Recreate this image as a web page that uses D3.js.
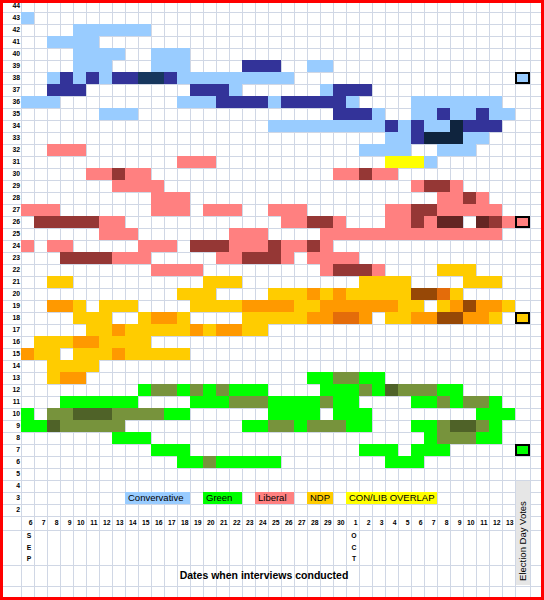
<!DOCTYPE html>
<html>
<head>
<meta charset="utf-8">
<script src="https://cdn.jsdelivr.net/npm/d3@7"></script>
<style>
  body { margin: 0; background: #fff; }
  svg { display: block; }
</style>
</head>
<body>
<svg id="chart"></svg>
<script>
// Interview dates (columns) and poll percentages (rows)
const dates = ["Sep 6","Sep 7","Sep 8","Sep 9","Sep 10","Sep 11","Sep 12","Sep 13","Sep 14","Sep 15",
  "Sep 16","Sep 17","Sep 18","Sep 19","Sep 20","Sep 21","Sep 22","Sep 23","Sep 24","Sep 25",
  "Sep 26","Sep 27","Sep 28","Sep 29","Sep 30","Oct 1","Oct 2","Oct 3","Oct 4","Oct 5",
  "Oct 6","Oct 7","Oct 8","Oct 9","Oct 10","Oct 11","Oct 12","Oct 13"];
const pcts = [44,43,42,41,40,39,38,37,36,35,34,33,32,31,30,29,28,27,26,25,24,23,22,
  21,20,19,18,17,16,15,14,13,12,11,10,9,8,7,6,5,4,3,2];
const months = [["Sep 6", "SEP"], ["Oct 1", "OCT"]];

// one char per date: "." none, digit = number of polls at that value
const conservative = [
  [43, "1......... .......... .......... ........"],
  [42, "....111111 .......... .......... ........"],
  [41, "..1111.... .......... .......... ........"],
  [40, "....1111.. 111....... .......... ........"],
  [39, "....111... 111....222 ..11...... ........"],
  [38, "..12121223 3211111111 1......... ........"],
  [37, "..222..... ...2221... ...1222... ........"],
  [36, "111....... ..11122221 222221.... 1111111."],
  [35, "......111. .......... ....2221.. 11211211"],
  [34, ".......... .........1 1111111121 2114222."],
  [33, ".......... .......... ........11 244411.."],
  [32, ".......... .......... ......1111 ..111..."],
  [31, ".......... .......... .......... .1......"]
];
const liberal = [
  [32, "..111..... .......... .......... ........"],
  [31, ".......... ..111..... .......... ........"],
  [30, ".....11211 .......... ....11211. ........"],
  [29, ".......111 1......... .......... 1221...."],
  [28, ".......... 111....... .......... ..1121.."],
  [27, "111....... 111.111..1 11......11 2211111."],
  [26, ".2222211.. .......... 11221...11 2133.321"],
  [25, "......111. ......111. ...1111111 1111111."],
  [24, "1.11.....1 11.2221112 1121...... ........"],
  [23, "...2222111 .....11222 1.1111.... ........"],
  [22, ".......... 1111...... ...12221.. ........"]
];
const ndp = [
  [22, ".......... .......... .......... ..111..."],
  [21, "..11...... ....111... ......1111 ....111."],
  [20, ".......... ..111....1 1121211111 4431...."],
  [19, "..221.111. ...1111222 2112222221 1.124221"],
  [18, "....111..1 221....111 1122332.11 2244221."],
  [17, ".....11211 111212211. .......... ........"],
  [16, ".111221111 .......... .......... ........"],
  [15, "211.111211 111....... .......... ........"],
  [14, "..1111.... .......... .......... ........"],
  [13, "..122..... .......... .......... ........"]
];
const green = [
  [13, ".......... .......... ..112211.. ........"],
  [12, ".........1 221212111. ...1112132 2211...."],
  [11, "...111111. ...1112221 111211.... 1121221."],
  [10, "1.22333222 211......1 111.111... .....111"],
  [9,  "11322222.. .......112 2122211... 1123321."],
  [8,  ".......111 .......... .......... .122211."],
  [7,  ".......... 111....... ......111. 111....."],
  [6,  ".......... ..11211111 ........11 1......."]
];
const conLibOverlap = [
  [31, ".......... .......... ........11 1......."]
];
const electionDay = [["Conservative", 38], ["Liberal", 26], ["NDP", 18], ["Green", 7]];
const legendNames = ["Convervative", "Green", "Liberal", "NDP", "CON/LIB OVERLAP"];

// colours by number of polls
const shades = {
  Conservative: ["#99CCFF", "#333399", "#17375E", "#0F243E"],
  Liberal: ["#FF8080", "#953735", "#632523"],
  NDP: ["#FFCC00", "#FF9900", "#E46C0A", "#974806"],
  Green: ["#00FF00", "#77933C", "#4F6228"],
  Overlap: ["#FFFF00"]
};
const legendColors = ["#99CCFF", "#00FF00", "#FF8080", "#FFCC00", "#FFFF00"];

const width = 544, height = 600;
const svg = d3.select("#chart").attr("width", width).attr("height", height);
svg.append("rect").attr("width", width).attr("height", height).attr("fill", "#fff");

const x = d3.scaleBand().domain(dates).range([21, 515]);
const y = d3.scaleBand().domain(pcts).range([0, 516]);
const elecX = 515, elecW = 15;
const gridColor = "#D0D7E5";

// grid
const grid = svg.append("g").attr("shape-rendering", "crispEdges").attr("stroke", gridColor);
const vLines = dates.map(d => x(d)).concat([elecX, elecX + elecW]);
grid.selectAll("line.v").data(vLines).join("line")
    .attr("x1", d => d + 0.5).attr("x2", d => d + 0.5)
    .attr("y1", 3).attr("y2", 597);
const hLines = pcts.map(p => y(p)).concat([516, 530, 565, 586]);
grid.selectAll("line.h").data(hLines).join("line")
    .attr("x1", 3).attr("x2", 541)
    .attr("y1", d => d + 0.5).attr("y2", d => d + 0.5);

// cells
function toCells(party, rows) {
  return rows.flatMap(([pct, s]) =>
    Array.from(s.replace(/ /g, "")).map((c, i) =>
      c === "." ? null : { party, pct, date: dates[i], n: +c }).filter(Boolean));
}
const cells = [].concat(
  toCells("Conservative", conservative),
  toCells("Liberal", liberal),
  toCells("NDP", ndp),
  toCells("Green", green),
  toCells("Overlap", conLibOverlap)
);
svg.append("g").attr("shape-rendering", "crispEdges")
  .selectAll("rect").data(cells).join("rect")
    .attr("x", d => x(d.date))
    .attr("y", d => y(d.pct))
    .attr("width", x.bandwidth())
    .attr("height", y.bandwidth())
    .attr("fill", d => shades[d.party][d.n - 1]);

// election day column
svg.append("rect").attr("x", elecX + 1).attr("y", 481).attr("width", elecW - 1).attr("height", 104)
    .attr("fill", "#E6E6E6");
svg.append("g").selectAll("rect").data(electionDay).join("rect")
    .attr("shape-rendering", "crispEdges")
    .attr("x", elecX + 1).attr("y", d => y(d[1]) + 1)
    .attr("width", elecW - 2).attr("height", y.bandwidth() - 2)
    .attr("fill", d => shades[d[0]][0])
    .attr("stroke", "#000").attr("stroke-width", 2);
svg.append("text")
    .attr("transform", `translate(${elecX + elecW / 2},541) rotate(-90)`)
    .attr("text-anchor", "middle").attr("dy", "0.35em")
    .attr("font-family", "Liberation Sans, Arial, sans-serif").attr("font-size", 9.5)
    .text("Election Day Votes");

// legend (cells in row 3)
const legendSpans = [[8, 5], [14, 3], [18, 3], [22, 2], [25, 7]];
const legend = svg.append("g");
legendNames.forEach((name, i) => {
  const [c0, n] = legendSpans[i];
  const x0 = x(dates[c0]);
  legend.append("rect").attr("shape-rendering", "crispEdges")
      .attr("x", x0).attr("y", y(3))
      .attr("width", x.bandwidth() * n).attr("height", y.bandwidth())
      .attr("fill", legendColors[i]);
  legend.append("text").attr("x", x0 + 3).attr("y", y(3) + 6).attr("dy", "0.35em")
      .attr("font-family", "Liberation Sans, Arial, sans-serif").attr("font-size", 9.5)
      .text(name);
});

// axes
const yAxis = svg.append("g").attr("transform", "translate(21,0)")
    .call(d3.axisLeft(y).tickSize(0).tickPadding(1));
yAxis.select(".domain").remove();
yAxis.selectAll("text").attr("font-weight", "bold").attr("font-size", 6.8)
    .attr("font-family", "Liberation Sans, Arial, sans-serif").attr("fill", "#000");

const xAxis = svg.append("g").attr("transform", "translate(0,516)")
    .call(d3.axisBottom(x).tickSize(0).tickFormat(d => d.split(" ")[1]));
xAxis.select(".domain").remove();
xAxis.selectAll("text").attr("y", 7).attr("dy", "0.35em")
    .attr("x", x.bandwidth() / 2 - 1.5).attr("text-anchor", "end")
    .attr("font-weight", "bold").attr("font-size", 6.8)
    .attr("font-family", "Liberation Sans, Arial, sans-serif").attr("fill", "#000");

// month letters under first day of each month
months.forEach(([d, m]) => {
  Array.from(m).forEach((ch, i) => {
    svg.append("text")
        .attr("x", x(d) + x.bandwidth() / 2 + 1.5).attr("y", 536 + i * 11.5).attr("dy", "0.35em")
        .attr("text-anchor", "middle").attr("font-weight", "bold").attr("font-size", 6.8)
        .attr("font-family", "Liberation Sans, Arial, sans-serif")
        .text(ch);
  });
});

svg.append("text").attr("x", 264).attr("y", 575.5).attr("dy", "0.35em")
    .attr("text-anchor", "middle").attr("font-weight", "bold").attr("font-size", 10.5)
    .attr("font-family", "Liberation Sans, Arial, sans-serif")
    .text("Dates when interviews conducted");

// red frame
svg.append("rect").attr("x", 1.5).attr("y", 1.5).attr("width", width - 3).attr("height", height - 3)
    .attr("fill", "none").attr("stroke", "#FF0000").attr("stroke-width", 3);
</script>
</body>
</html>
